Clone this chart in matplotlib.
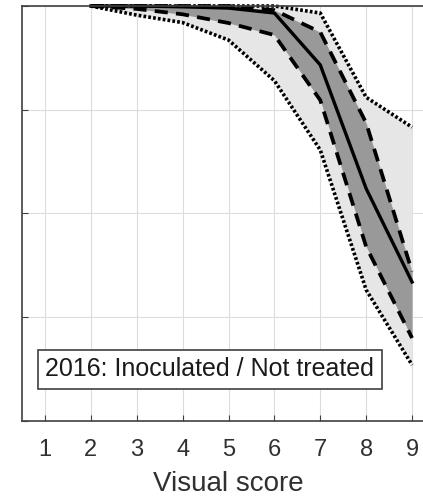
import matplotlib.pyplot as plt

plt.rcParams['font.family'] = ['Liberation Sans', 'DejaVu Sans']

# visual score classes and the probability bands
scores = [2, 3, 4, 5, 6, 7, 8, 9]
upper_dot = [1.0, 1.0, 1.0, 1.0, 1.0, 0.983, 0.78, 0.708]
upper_dash = [1.0, 1.0, 1.0, 1.0, 0.99, 0.937, 0.718, 0.36]
median = [1.0, 1.0, 0.998, 0.995, 0.983, 0.858, 0.56, 0.335]
lower_dash = [1.0, 0.993, 0.98, 0.959, 0.93, 0.773, 0.42, 0.20]
lower_dot = [1.0, 0.978, 0.96, 0.918, 0.82, 0.653, 0.316, 0.135]

xticks = [1, 2, 3, 4, 5, 6, 7, 8, 9]
yticks = [0, 0.25, 0.5, 0.75, 1.0]

fig = plt.figure(figsize=(4.23, 4.98), dpi=100)
ax = fig.add_axes([22 / 423, 77 / 498, 413 / 423, 415 / 498])

ax.fill_between(scores, lower_dot, upper_dot, color='#e6e6e6', lw=0)
ax.fill_between(scores, lower_dash, upper_dash, color='#999999', lw=0)

dot = (0, (0.75, 0.6))
dash = (0, (3.5, 2.2))
ax.plot(scores, upper_dot, color='black', lw=2.6, ls=dot, clip_on=False)
ax.plot(scores, lower_dot, color='black', lw=2.6, ls=dot, clip_on=False)
ax.plot(scores, upper_dash, color='black', lw=2.7, ls=dash, clip_on=False)
ax.plot(scores, lower_dash, color='black', lw=2.7, ls=dash, clip_on=False)
ax.plot(scores, median, color='black', lw=2.4, clip_on=False)

ax.set_xlim(0.5, 9.5)
ax.set_ylim(0, 1)
ax.set_xticks(xticks)
ax.set_yticks(yticks)
ax.set_yticklabels([])
ax.grid(True, color='#dcdcdc', lw=0.8)
ax.set_axisbelow(True)

for side in ['left', 'top', 'bottom']:
    ax.spines[side].set_color('#404040')
    ax.spines[side].set_linewidth(1.2)
ax.spines['right'].set_visible(False)

ax.tick_params(direction='in', length=4, width=0.8, color='#404040',
               labelsize=17, labelcolor='#303030', pad=13, top=False, right=False)
ax.set_xlabel('Visual score', fontsize=20, color='#303030', labelpad=7)

ax.text(0.455, 0.125, '2016: Inoculated / Not treated', transform=ax.transAxes,
        ha='center', va='center', fontsize=18, color='#1a1a1a',
        bbox=dict(boxstyle='square,pad=0.3', fc='white', ec='#404040', lw=1.2))

fig.savefig('out.png', dpi=100)
